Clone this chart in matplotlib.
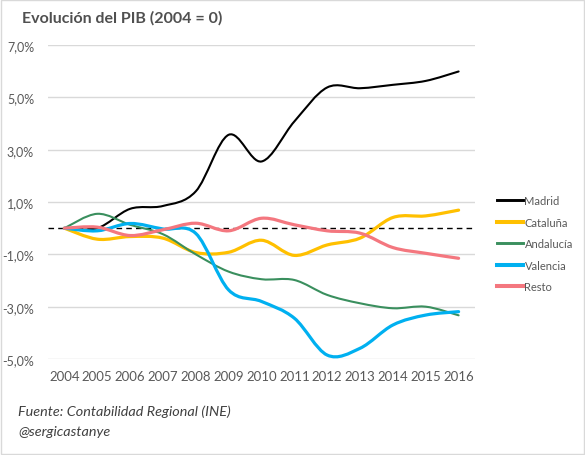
import matplotlib.pyplot as plt
from matplotlib.path import Path
from matplotlib.patches import PathPatch, Rectangle
from matplotlib.lines import Line2D

years = ['2004', '2005', '2006', '2007', '2008', '2009', '2010',
         '2011', '2012', '2013', '2014', '2015', '2016']

madrid = [0.0, 0.0, 0.74, 0.85, 1.41, 3.57, 2.55, 4.08, 5.38, 5.35, 5.48, 5.63, 5.99]
cataluna = [0.0, -0.42, -0.32, -0.38, -0.93, -0.92, -0.46, -1.04, -0.64, -0.38, 0.41, 0.47, 0.69]
andalucia = [0.0, 0.55, 0.13, -0.23, -1.0, -1.66, -1.95, -1.98, -2.55, -2.87, -3.06, -3.0, -3.33]
valencia = [0.0, -0.1, 0.18, -0.03, -0.2, -2.36, -2.8, -3.44, -4.85, -4.59, -3.7, -3.32, -3.19]
resto = [0.0, 0.04, -0.28, -0.06, 0.19, -0.1, 0.38, 0.13, -0.1, -0.19, -0.74, -0.96, -1.15]

names = ['Madrid', 'Cataluña', 'Andalucía', 'Valencia', 'Resto']
series = [madrid, cataluna, andalucia, valencia, resto]
colors = ['#000000', '#FFC000', '#3A8F5E', '#00B0F0', '#F4777F']
widths = [1.5, 2.3, 1.5, 2.3, 2.3]

yticks = [7, 5, 3, 1, -1, -3, -5]
ytick_labels = ['7,0%', '5,0%', '3,0%', '1,0%', '-1,0%', '-3,0%', '-5,0%']

plt.rcParams['font.family'] = ['Lato', 'DejaVu Sans']
grey = '#595959'


def smooth_path(ys):
    # bezier curve like excel's "smoothed line"
    xs = list(range(len(ys)))
    pts = list(zip(xs, ys))
    verts = [pts[0]]
    codes = [Path.MOVETO]
    n = len(pts)
    for i in range(n - 1):
        p0 = pts[i - 1] if i > 0 else pts[i]
        p1 = pts[i]
        p2 = pts[i + 1]
        p3 = pts[i + 2] if i + 2 < n else pts[i + 1]
        c1 = (p1[0] + (p2[0] - p0[0]) / 6, p1[1] + (p2[1] - p0[1]) / 6)
        c2 = (p2[0] - (p3[0] - p1[0]) / 6, p2[1] - (p3[1] - p1[1]) / 6)
        verts += [c1, c2, p2]
        codes += [Path.CURVE4] * 3
    return Path(verts, codes)


fig = plt.figure(figsize=(5.85, 4.56), dpi=100)
ax = fig.add_axes([0.082, 0.2105, 0.73, 0.6885])

ax.set_xlim(-0.5, len(years) - 0.5)
ax.set_ylim(-5, 7)
ax.set_yticks(yticks)
ax.set_yticklabels(ytick_labels)
ax.set_xticks(range(len(years)))
ax.set_xticklabels(years)
ax.yaxis.grid(True, color='#d9d9d9', lw=1)
ax.set_axisbelow(True)
for s in ax.spines.values():
    s.set_visible(False)
ax.tick_params(length=0, labelsize=9, labelcolor=grey)
ax.tick_params(axis='x', labelsize=9.5, pad=8)
ax.tick_params(axis='y', pad=10)

ax.axhline(0, color='black', lw=1, ls=(0, (4, 3)), zorder=1)

handles = []
for name, ys, c, w in zip(names, series, colors, widths):
    ax.add_patch(PathPatch(smooth_path(ys), fill=False, edgecolor=c, lw=w,
                           capstyle='round', joinstyle='round', zorder=2))
    handles.append(Line2D([], [], color=c, lw=w + 0.6))

fig.legend(handles, names, loc='upper left', bbox_to_anchor=(0.832, 0.592),
           frameon=False, fontsize=8, handlelength=2.4, handletextpad=0.1,
           labelspacing=0.95, labelcolor=grey)

fig.text(0.037, 0.96, 'Evolución del PIB (2004 = 0)', fontsize=11.5,
         fontweight='bold', color='#505050', va='center')
fig.text(0.031, 0.098, 'Fuente: Contabilidad Regional (INE)', fontsize=10.4,
         style='italic', color='#404040', va='center')
fig.text(0.031, 0.052, '@sergicastanye', fontsize=10.4,
         style='italic', color='#404040', va='center')

fig.patches.append(Rectangle((0.001, 0.002), 0.997, 0.996, transform=fig.transFigure,
                             fill=False, edgecolor='#d9d9d9', lw=1))

fig.savefig('out.png', dpi=100)
